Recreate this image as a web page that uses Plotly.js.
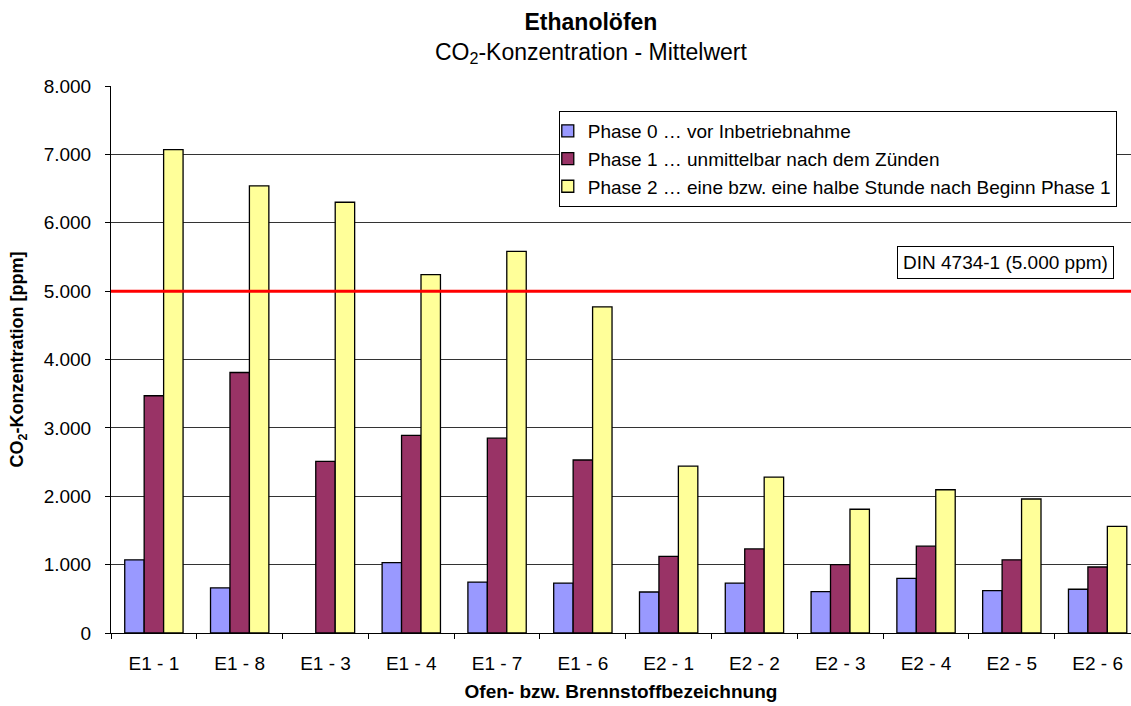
<!DOCTYPE html>
<html>
<head>
<meta charset="utf-8">
<script src="https://cdn.plot.ly/plotly-3.0.1.min.js"></script>
<style>
  html, body { margin: 0; padding: 0; background: #fff; }
  #chart { width: 1131px; height: 706px; }
</style>
</head>
<body>
<div id="chart"></div>
<script>
// Oven / fuel designations
const categories = ['E1 - 1', 'E1 - 8', 'E1 - 3', 'E1 - 4', 'E1 - 7', 'E1 - 6',
                    'E2 - 1', 'E2 - 2', 'E2 - 3', 'E2 - 4', 'E2 - 5', 'E2 - 6'];

// Mean CO2 concentration [ppm] per phase
const phase0 = [1070, 660, null, 1030, 745, 730, 600, 730, 605, 800, 620, 640];
const phase1 = [3470, 3810, 2510, 2890, 2850, 2530, 1120, 1230, 1000, 1270, 1070, 965];
const phase2 = [7070, 6540, 6300, 5240, 5580, 4770, 2440, 2280, 1810, 2095, 1960, 1560];

const seriesNames = [
  'Phase 0 … vor Inbetriebnahme',
  'Phase 1 … unmittelbar nach dem Zünden',
  'Phase 2 … eine bzw. eine halbe Stunde nach Beginn Phase 1'
];

// DIN 4734-1 limit value [ppm]
const dinLimit = 5000;
const dinLabel = 'DIN 4734-1 (5.000 ppm)';

const FONT = '"Liberation Sans", Arial, Helvetica, sans-serif';
const colors = ['#9999FF', '#993366', '#FFFF99'];
const values = [phase0, phase1, phase2];

const traces = values.map((v, i) => ({
  type: 'bar',
  name: seriesNames[i],
  x: categories,
  y: v,
  legendgroup: 'g' + i,
  marker: { color: colors[i], line: { color: '#000000', width: 1.3 } },
  hoverinfo: 'x+y'
}));

const layout = {
  width: 1131,
  height: 706,
  paper_bgcolor: '#ffffff',
  plot_bgcolor: '#ffffff',
  font: { family: FONT, color: '#000000', size: 19 },
  separators: ',.',
  margin: { l: 110.7, r: 0, t: 86, b: 72.7, pad: 0 },
  title: {
    text: '<b>Ethanolöfen</b><br>CO<sub>2</sub>-Konzentration - Mittelwert',
    font: { family: FONT, size: 23, color: '#000000' },
    x: 0.5225, xref: 'container', xanchor: 'center',
    y: 0.958, yref: 'container', yanchor: 'middle'
  },
  barmode: 'group',
  bargap: 0.32,
  bargroupgap: 0,
  showlegend: true,
  legend: {
    x: 0.439, y: 0.9543, xanchor: 'left', yanchor: 'top',
    bgcolor: '#ffffff', bordercolor: '#000000', borderwidth: 1,
    font: { family: FONT, size: 19, color: '#000000' },
    tracegroupgap: 2,
    indentation: -12,
    traceorder: 'normal'
  },
  xaxis: {
    type: 'category',
    range: [-0.5, 11.389],
    tickson: 'boundaries',
    ticks: 'outside', ticklen: 5, tickcolor: '#000000', tickwidth: 1,
    showline: true, linecolor: '#000000', linewidth: 1,
    showgrid: false, zeroline: false,
    ticklabelstandoff: 13,
    tickfont: { family: FONT, size: 19 },
    title: {
      text: '<b>Ofen- bzw. Brennstoffbezeichnung</b>',
      font: { family: FONT, size: 19 },
      standoff: 11
    },
    automargin: false,
    fixedrange: true
  },
  yaxis: {
    range: [0, 8000],
    dtick: 1000,
    tickformat: ',d',
    ticks: 'outside', ticklen: 5, tickcolor: '#000000', tickwidth: 1,
    showline: true, linecolor: '#000000', linewidth: 1,
    showgrid: true, gridcolor: '#333333', gridwidth: 1,
    zeroline: false,
    ticklabelstandoff: 10,
    tickfont: { family: FONT, size: 19 },
    title: {
      text: '<b>CO<sub>2</sub>-Konzentration [ppm]</b>',
      font: { family: FONT, size: 18 },
      standoff: 15
    },
    automargin: false,
    fixedrange: true
  },
  shapes: [{
    type: 'line', layer: 'above',
    xref: 'paper', x0: 0, x1: 1,
    yref: 'y', y0: dinLimit, y1: dinLimit,
    line: { color: '#FF0000', width: 3 }
  }],
  annotations: [{
    text: dinLabel,
    xref: 'paper', x: 0.983, xanchor: 'right',
    yref: 'paper', y: 0.6766, yanchor: 'middle',
    showarrow: false,
    bgcolor: '#ffffff', bordercolor: '#000000', borderwidth: 1, borderpad: 5,
    font: { family: FONT, size: 19, color: '#000000' }
  }]
};

Plotly.newPlot('chart', traces, layout, { staticPlot: true, displayModeBar: false });
</script>
</body>
</html>
